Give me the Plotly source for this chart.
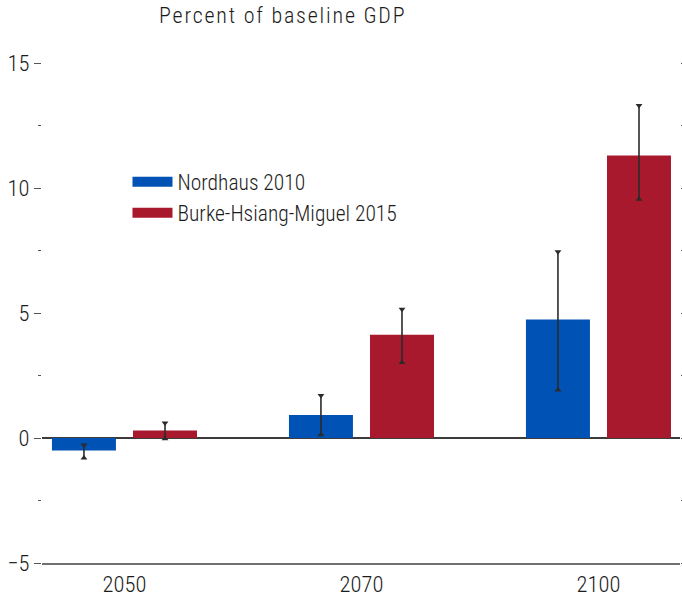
import plotly.graph_objects as go

# Projected output losses, percent of baseline GDP
years = ["2050", "2070", "2100"]
series_names = ["Nordhaus 2010", "Burke-Hsiang-Miguel 2015"]
nordhaus = [-0.5, 0.92, 4.74]
nordhaus_lo = [-0.8, 0.13, 1.92]
nordhaus_hi = [-0.28, 1.7, 7.45]
burke = [0.3, 4.13, 11.3]
burke_lo = [-0.03, 3.02, 9.55]
burke_hi = [0.6, 5.15, 13.3]

colors = ["#0052b4", "#a8192e"]
font_family = "Roboto Condensed, Liberation Sans Narrow, Arial Narrow, sans-serif"
text_color = "#1c1c1c"

bar_width = 0.27
offsets = [-0.171, 0.171]

fig = go.Figure()
idx = list(range(len(years)))
for k, (name, vals, lo, hi) in enumerate([
    (series_names[0], nordhaus, nordhaus_lo, nordhaus_hi),
    (series_names[1], burke, burke_lo, burke_hi),
]):
    xs = [i + offsets[k] for i in idx]
    fig.add_trace(go.Bar(
        x=xs, y=vals, width=bar_width, marker=dict(color=colors[k], line=dict(width=0)),
        showlegend=False, hoverinfo="skip",
    ))
    # confidence range: a vertical line with small triangular caps
    for x, a, b in zip(xs, lo, hi):
        fig.add_trace(go.Scatter(
            x=[x, x], y=[a, b], mode="lines",
            line=dict(color="#2b2b2b", width=1.6), showlegend=False, hoverinfo="skip",
        ))
    fig.add_trace(go.Scatter(
        x=xs, y=hi, mode="markers",
        marker=dict(symbol="triangle-down", size=6, color="#2b2b2b"),
        showlegend=False, hoverinfo="skip",
    ))
    fig.add_trace(go.Scatter(
        x=xs, y=lo, mode="markers",
        marker=dict(symbol="triangle-up", size=6, color="#2b2b2b"),
        showlegend=False, hoverinfo="skip",
    ))
    # legend entry drawn as a thick swatch line
    fig.add_trace(go.Scatter(
        x=[None], y=[None], mode="lines", name=name,
        line=dict(color=colors[k], width=10),
    ))

fig.update_layout(
    width=682, height=599,
    margin=dict(l=42, r=2, t=38, b=33),
    paper_bgcolor="white", plot_bgcolor="white",
    font=dict(family=font_family, size=22, color=text_color, weight=300),
    showlegend=True,
    legend=dict(
        x=0.134, y=0.765, xanchor="left", yanchor="top",
        bgcolor="rgba(0,0,0,0)",
        font=dict(family=font_family, size=21.5, color=text_color, weight=300),
        itemwidth=40, tracegroupgap=0,
    ),
    xaxis=dict(
        range=[-0.348, 2.344], tickvals=idx, ticktext=years,
        showgrid=False, zeroline=False, showline=True,
        linecolor="#707070", linewidth=2, ticks="",
        tickfont=dict(family=font_family, size=22.5, color=text_color, weight=300),
    ),
    yaxis=dict(
        range=[-5, 16], tickvals=[-5, 0, 5, 10, 15],
        showgrid=False, showline=False,
        zeroline=True, zerolinecolor="#3c3c3c", zerolinewidth=1.6,
        ticks="outside", ticklen=7, tickcolor="#555555", tickwidth=1,
        mirror="ticks",
        minor=dict(tickvals=[-2.5, 2.5, 7.5, 12.5], ticks="outside", ticklen=3,
                   tickcolor="#555555", tickwidth=1),
        tickfont=dict(family=font_family, size=22.5, color=text_color, weight=300),
    ),
    annotations=[dict(
        text="<span style='letter-spacing:1.8px'>Percent of baseline GDP</span>",
        xref="paper", yref="paper",
        x=(282 - 42) / 638, y=1.0436, xanchor="center", yanchor="middle", showarrow=False,
        font=dict(family=font_family, size=22, color=text_color, weight=300),
    )],
)

fig.write_html("out.html")
